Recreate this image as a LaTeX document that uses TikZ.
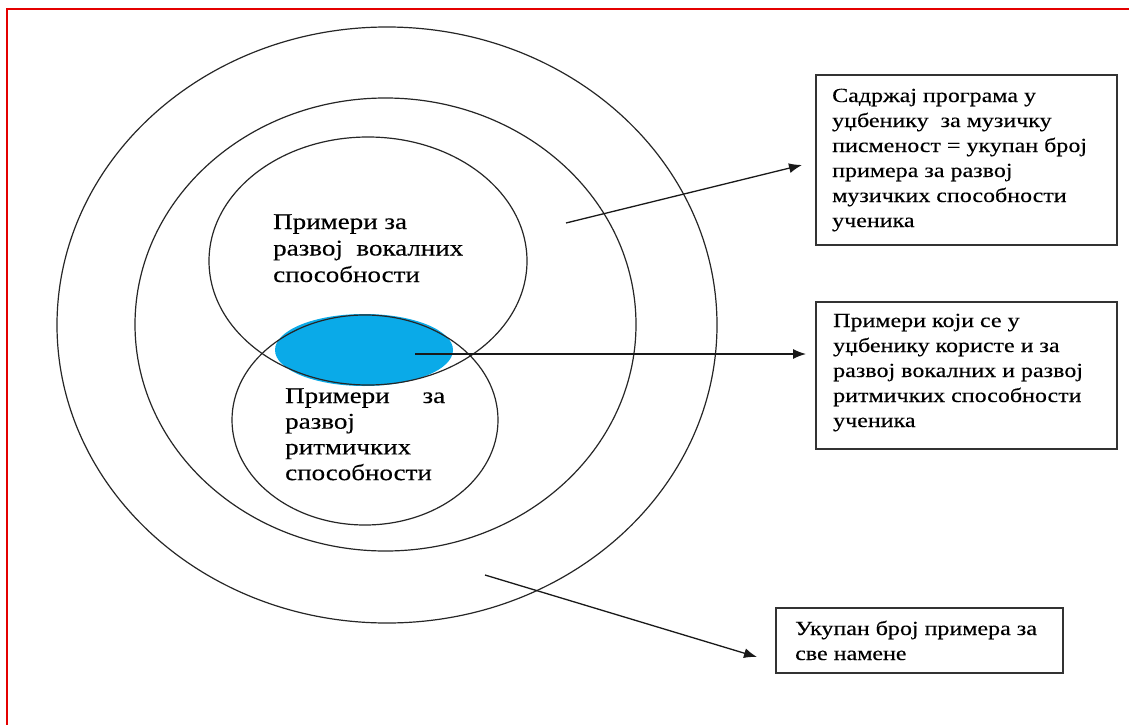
\documentclass[tikz,border=0pt]{standalone}
\usepackage{fontspec}
\setmainfont{Liberation Serif}
\newfontfamily\tnr[FakeStretch=1.2,FakeBold=0.3]{Liberation Serif}
\usetikzlibrary{shapes.geometric,arrows.meta}
\definecolor{skyblue}{RGB}{10,170,232}
\definecolor{frame}{RGB}{228,0,0}
\begin{document}
\begin{tikzpicture}[x=1pt,y=-1pt,
  ring/.style={draw=black!85, line width=1.2pt, ellipse, inner sep=0pt, outer sep=0pt},
  infobox/.style={draw=black!80, line width=1.5pt, rectangle, inner sep=0pt},
  conn/.style={draw=black!90, line width=1.3pt, -{Latex[length=13pt,width=10pt]}},
  boxtext/.style={anchor=base west, inner sep=0pt, font=\tnr\fontsize{20}{25}\selectfont},
  circtext/.style={anchor=base west, inner sep=0pt, font=\tnr\fontsize{22.5}{26.5}\selectfont},
  circtextb/.style={anchor=base west, inner sep=0pt, font=\tnr\fontsize{22.5}{25.7}\selectfont}]
\useasboundingbox (0,0) rectangle (1129,725);
\fill[white] (0,0) rectangle (1129,725);
% red frame
\draw[frame, line width=2.8pt] (7,725) -- (7,9) -- (1129,9);
% overlap area
\node[ellipse, fill=skyblue, inner sep=0pt, minimum width=178pt, minimum height=72pt] (overlap) at (364,350) {};
% ellipses
\node[ring, minimum width=660pt, minimum height=596pt] (outer) at (387,325) {};
\node[ring, minimum width=501pt, minimum height=453pt] (middle) at (385.5,324.5) {};
\node[ring, minimum width=318pt, minimum height=248pt] (vocal) at (368,261) {};
\node[ring, minimum width=266pt, minimum height=210pt] (rhythm) at (365,420) {};
% texts in ellipses
\node[circtext] (tvocal) at (273,229) {\parbox[t]{240pt}{\raggedright
Примери за\\
развој\ \ вокалних\\
способности}};
\node[circtextb] (trhythm) at (285,403) {\parbox[t]{200pt}{\raggedright
\leavevmode\hbox to 160pt{Примери\hfill за}\\
развој\\
ритмичких\\
способности}};
% boxes
\node[infobox, minimum width=301pt, minimum height=170pt] (box1) at (966.5,160) {};
\node[infobox, minimum width=301pt, minimum height=147pt] (box2) at (966.5,375.5) {};
\node[infobox, minimum width=287pt, minimum height=65pt] (box3) at (919.5,640.5) {};
\node[boxtext] (t1) at (832,102) {\parbox[t]{280pt}{\raggedright
Садржај програма у\\
уџбенику\ \ за музичку\\
писменост = укупан број\\
примера за развој\\
музичких способности\\
ученика}};
\node[boxtext] (t2) at (833,327) {\parbox[t]{280pt}{\raggedright
Примери који се у\\
уџбенику користе и за\\
развој вокалних и развој\\
ритмичких способности\\
ученика}};
\node[boxtext] (t3) at (795,635) {\parbox[t]{280pt}{\raggedright
Укупан број примера за\\
све намене}};
% connectors
\coordinate (a1s) at (566,223);
\coordinate (a1e) at (802,165);
\coordinate (a2s) at (415,354);
\coordinate (a2e) at (806,354);
\coordinate (a3s) at (485,575);
\coordinate (a3e) at (757,657);
\draw[conn] (a1s) -- (a1e);
\draw[conn] (a2s) -- (a2e);
\draw[conn] (a3s) -- (a3e);
\end{tikzpicture}
\end{document}
